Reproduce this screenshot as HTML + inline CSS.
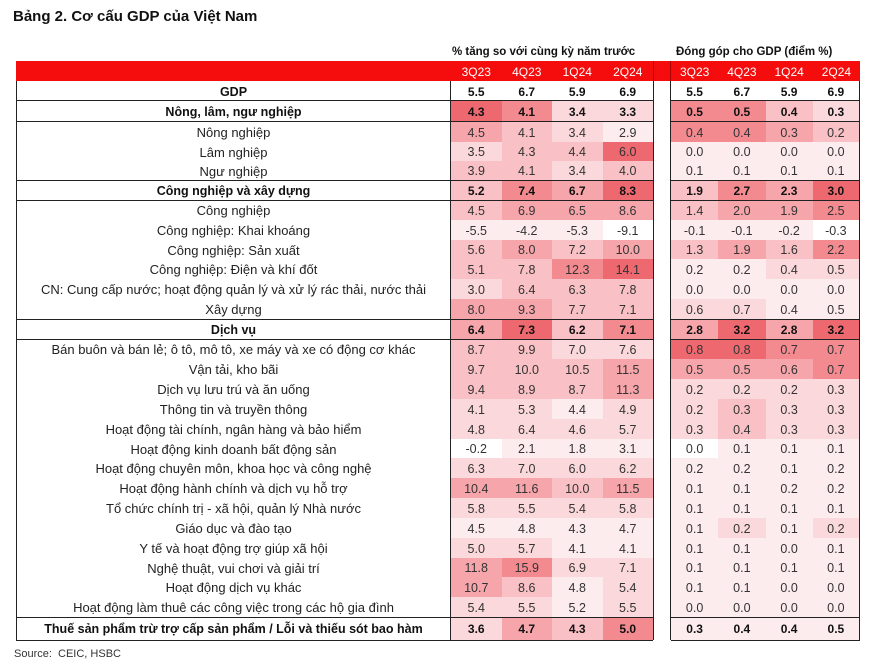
<!DOCTYPE html>
<html><head><meta charset="utf-8"><style>
body{margin:0;width:874px;height:665px;background:#fff;position:relative;overflow:hidden;font-family:"Liberation Sans",Arial,sans-serif;color:#222}
.t{position:absolute;left:13px;top:8px;font-weight:bold;font-size:15px;color:#111}
.hd{position:absolute;top:46px;font-weight:bold;font-size:11.5px;color:#111}
.r{position:absolute;left:16px;width:844px;display:grid;grid-template-columns:435px repeat(4,50.5px) 18px repeat(4,47.25px);align-items:stretch}
.r>div{display:flex;align-items:center;justify-content:center;font-size:12.5px;color:#333;white-space:nowrap;padding-top:1px;box-sizing:border-box}
.r>div:first-child{font-size:13px;color:#222;border-left:1px solid #222;border-right:1px solid #222}
.r>div:nth-child(6){border-left:1px solid #222;border-right:1px solid #222;background:#fff}
.r>div:last-child{border-right:1px solid #222}
.b>div{font-weight:bold;color:#111;font-size:12px}
.b>div:first-child{font-size:12.5px;font-weight:bold;color:#111}
.h{top:61px;height:20px;background:#f50d0d}
.h>div{color:#fff;font-size:12px}
.h>div:first-child,.h>div:last-child{border:none;background:#f50d0d}
.h>div:nth-child(6){border-left:1px solid #a00;border-right:1px solid #a00;background:#f50d0d}
.hl{position:absolute;height:1px;background:#222}
.a0{background:#fff}.a1{background:#fdecee}.a2{background:#fbd8db}.a3{background:#f9c1c5}.a4{background:#f6a6ab}.a5{background:#f38a90}.a6{background:#ee6870}
.src{position:absolute;left:14px;top:648px;font-size:11px;color:#333}
</style></head><body>
<div class="t">Bảng 2. Cơ cấu GDP của Việt Nam</div>
<div class="hd" style="left:452px">% tăng so với cùng kỳ năm trước</div>
<div class="hd" style="left:676px">Đóng góp cho GDP (điểm %)</div>

<div class="r h"><div></div><div>3Q23</div><div>4Q23</div><div>1Q24</div><div>2Q24</div><div></div><div>3Q23</div><div>4Q23</div><div>1Q24</div><div>2Q24</div></div>

<div class="r b" style="top:81px;height:20px"><div>GDP</div><div>5.5</div><div>6.7</div><div>5.9</div><div>6.9</div><div></div><div>5.5</div><div>6.7</div><div>5.9</div><div>6.9</div></div>
<div class="r b" style="top:101px;height:21px"><div>Nông, lâm, ngư nghiệp</div><div class="a6">4.3</div><div class="a5">4.1</div><div class="a2">3.4</div><div class="a2">3.3</div><div></div><div class="a5">0.5</div><div class="a5">0.5</div><div class="a3">0.4</div><div class="a2">0.3</div></div>
<div class="r" style="top:122px;height:20px"><div>Nông nghiệp</div><div class="a4">4.5</div><div class="a3">4.1</div><div class="a2">3.4</div><div class="a1">2.9</div><div></div><div class="a5">0.4</div><div class="a5">0.4</div><div class="a4">0.3</div><div class="a3">0.2</div></div>
<div class="r" style="top:142px;height:19px"><div>Lâm nghiệp</div><div class="a2">3.5</div><div class="a3">4.3</div><div class="a3">4.4</div><div class="a6">6.0</div><div></div><div class="a1">0.0</div><div class="a1">0.0</div><div class="a1">0.0</div><div class="a1">0.0</div></div>
<div class="r" style="top:161px;height:19px"><div>Ngư nghiệp</div><div class="a3">3.9</div><div class="a3">4.1</div><div class="a2">3.4</div><div class="a3">4.0</div><div></div><div class="a1">0.1</div><div class="a1">0.1</div><div class="a1">0.1</div><div class="a1">0.1</div></div>
<div class="r b" style="top:180px;height:20px"><div>Công nghiệp và xây dựng</div><div class="a3">5.2</div><div class="a5">7.4</div><div class="a4">6.7</div><div class="a6">8.3</div><div></div><div class="a3">1.9</div><div class="a5">2.7</div><div class="a4">2.3</div><div class="a6">3.0</div></div>
<div class="r" style="top:200px;height:20px"><div>Công nghiệp</div><div class="a3">4.5</div><div class="a4">6.9</div><div class="a4">6.5</div><div class="a4">8.6</div><div></div><div class="a3">1.4</div><div class="a4">2.0</div><div class="a4">1.9</div><div class="a5">2.5</div></div>
<div class="r" style="top:220px;height:20px"><div>Công nghiệp: Khai khoáng</div><div class="a1">-5.5</div><div class="a1">-4.2</div><div class="a1">-5.3</div><div class="a0">-9.1</div><div></div><div class="a1">-0.1</div><div class="a1">-0.1</div><div class="a1">-0.2</div><div class="a0">-0.3</div></div>
<div class="r" style="top:240px;height:19px"><div>Công nghiệp: Sản xuất</div><div class="a3">5.6</div><div class="a4">8.0</div><div class="a3">7.2</div><div class="a4">10.0</div><div></div><div class="a3">1.3</div><div class="a4">1.9</div><div class="a3">1.6</div><div class="a5">2.2</div></div>
<div class="r" style="top:259px;height:20px"><div>Công nghiệp: Điện và khí đốt</div><div class="a3">5.1</div><div class="a3">7.8</div><div class="a5">12.3</div><div class="a6">14.1</div><div></div><div class="a1">0.2</div><div class="a1">0.2</div><div class="a2">0.4</div><div class="a2">0.5</div></div>
<div class="r" style="top:279px;height:20px"><div>CN: Cung cấp nước; hoạt động quản lý và xử lý rác thải, nước thải</div><div class="a2">3.0</div><div class="a3">6.4</div><div class="a3">6.3</div><div class="a3">7.8</div><div></div><div class="a1">0.0</div><div class="a1">0.0</div><div class="a1">0.0</div><div class="a1">0.0</div></div>
<div class="r" style="top:299px;height:20px"><div>Xây dựng</div><div class="a4">8.0</div><div class="a4">9.3</div><div class="a3">7.7</div><div class="a3">7.1</div><div></div><div class="a2">0.6</div><div class="a2">0.7</div><div class="a1">0.4</div><div class="a1">0.5</div></div>
<div class="r b" style="top:319px;height:20px"><div>Dịch vụ</div><div class="a4">6.4</div><div class="a6">7.3</div><div class="a3">6.2</div><div class="a5">7.1</div><div></div><div class="a4">2.8</div><div class="a6">3.2</div><div class="a4">2.8</div><div class="a6">3.2</div></div>
<div class="r" style="top:339px;height:20px"><div>Bán buôn và bán lẻ; ô tô, mô tô, xe máy và xe có động cơ khác</div><div class="a3">8.7</div><div class="a3">9.9</div><div class="a2">7.0</div><div class="a2">7.6</div><div></div><div class="a6">0.8</div><div class="a6">0.8</div><div class="a5">0.7</div><div class="a5">0.7</div></div>
<div class="r" style="top:359px;height:20px"><div>Vận tải, kho bãi</div><div class="a3">9.7</div><div class="a3">10.0</div><div class="a3">10.5</div><div class="a4">11.5</div><div></div><div class="a4">0.5</div><div class="a4">0.5</div><div class="a4">0.6</div><div class="a5">0.7</div></div>
<div class="r" style="top:379px;height:20px"><div>Dịch vụ lưu trú và ăn uống</div><div class="a3">9.4</div><div class="a3">8.9</div><div class="a3">8.7</div><div class="a4">11.3</div><div></div><div class="a2">0.2</div><div class="a2">0.2</div><div class="a2">0.2</div><div class="a2">0.3</div></div>
<div class="r" style="top:399px;height:20px"><div>Thông tin và truyền thông</div><div class="a2">4.1</div><div class="a2">5.3</div><div class="a1">4.4</div><div class="a2">4.9</div><div></div><div class="a2">0.2</div><div class="a3">0.3</div><div class="a2">0.3</div><div class="a2">0.3</div></div>
<div class="r" style="top:419px;height:20px"><div>Hoạt động tài chính, ngân hàng và bảo hiểm</div><div class="a2">4.8</div><div class="a2">6.4</div><div class="a2">4.6</div><div class="a2">5.7</div><div></div><div class="a2">0.3</div><div class="a3">0.4</div><div class="a2">0.3</div><div class="a2">0.3</div></div>
<div class="r" style="top:439px;height:19px"><div>Hoạt động kinh doanh bất động sản</div><div class="a0">-0.2</div><div class="a1">2.1</div><div class="a1">1.8</div><div class="a1">3.1</div><div></div><div class="a0">0.0</div><div class="a1">0.1</div><div class="a1">0.1</div><div class="a1">0.1</div></div>
<div class="r" style="top:458px;height:20px"><div>Hoạt động chuyên môn, khoa học và công nghệ</div><div class="a2">6.3</div><div class="a2">7.0</div><div class="a2">6.0</div><div class="a2">6.2</div><div></div><div class="a1">0.2</div><div class="a1">0.2</div><div class="a1">0.1</div><div class="a1">0.2</div></div>
<div class="r" style="top:478px;height:20px"><div>Hoạt động hành chính và dịch vụ hỗ trợ</div><div class="a4">10.4</div><div class="a4">11.6</div><div class="a3">10.0</div><div class="a4">11.5</div><div></div><div class="a1">0.1</div><div class="a1">0.1</div><div class="a1">0.2</div><div class="a1">0.2</div></div>
<div class="r" style="top:498px;height:20px"><div>Tổ chức chính trị - xã hội, quản lý Nhà nước</div><div class="a2">5.8</div><div class="a2">5.5</div><div class="a2">5.4</div><div class="a2">5.8</div><div></div><div class="a1">0.1</div><div class="a1">0.1</div><div class="a1">0.1</div><div class="a1">0.1</div></div>
<div class="r" style="top:518px;height:20px"><div>Giáo dục và đào tạo</div><div class="a1">4.5</div><div class="a1">4.8</div><div class="a1">4.3</div><div class="a1">4.7</div><div></div><div class="a1">0.1</div><div class="a2">0.2</div><div class="a1">0.1</div><div class="a2">0.2</div></div>
<div class="r" style="top:538px;height:20px"><div>Y tế và hoạt động trợ giúp xã hội</div><div class="a2">5.0</div><div class="a2">5.7</div><div class="a1">4.1</div><div class="a1">4.1</div><div></div><div class="a1">0.1</div><div class="a1">0.1</div><div class="a1">0.0</div><div class="a1">0.1</div></div>
<div class="r" style="top:558px;height:19px"><div>Nghệ thuật, vui chơi và giải trí</div><div class="a4">11.8</div><div class="a5">15.9</div><div class="a2">6.9</div><div class="a2">7.1</div><div></div><div class="a1">0.1</div><div class="a1">0.1</div><div class="a1">0.1</div><div class="a1">0.1</div></div>
<div class="r" style="top:577px;height:20px"><div>Hoạt động dịch vụ khác</div><div class="a4">10.7</div><div class="a3">8.6</div><div class="a1">4.8</div><div class="a2">5.4</div><div></div><div class="a1">0.1</div><div class="a1">0.1</div><div class="a1">0.0</div><div class="a1">0.0</div></div>
<div class="r" style="top:597px;height:20px"><div>Hoạt động làm thuê các công việc trong các hộ gia đình</div><div class="a2">5.4</div><div class="a2">5.5</div><div class="a1">5.2</div><div class="a2">5.5</div><div></div><div class="a1">0.0</div><div class="a1">0.0</div><div class="a1">0.0</div><div class="a1">0.0</div></div>
<div class="r b" style="top:617px;height:23px"><div>Thuế sản phẩm trừ trợ cấp sản phẩm / Lỗi và thiếu sót bao hàm</div><div class="a2">3.6</div><div class="a4">4.7</div><div class="a3">4.3</div><div class="a5">5.0</div><div></div><div class="a1">0.3</div><div class="a1">0.4</div><div class="a1">0.4</div><div class="a1">0.5</div></div>

<div class="hl" style="top:100px;left:16px;width:637px"></div><div class="hl" style="top:100px;left:671px;width:189px"></div>
<div class="hl" style="top:121px;left:16px;width:637px"></div><div class="hl" style="top:121px;left:671px;width:189px"></div>
<div class="hl" style="top:180px;left:16px;width:637px"></div><div class="hl" style="top:180px;left:671px;width:189px"></div>
<div class="hl" style="top:200px;left:16px;width:637px"></div><div class="hl" style="top:200px;left:671px;width:189px"></div>
<div class="hl" style="top:319px;left:16px;width:637px"></div><div class="hl" style="top:319px;left:671px;width:189px"></div>
<div class="hl" style="top:339px;left:16px;width:637px"></div><div class="hl" style="top:339px;left:671px;width:189px"></div>
<div class="hl" style="top:617px;left:16px;width:637px"></div><div class="hl" style="top:617px;left:671px;width:189px"></div>
<div class="hl" style="top:640px;left:16px;width:637px"></div><div class="hl" style="top:640px;left:671px;width:189px"></div>

<div class="src">Source:&nbsp; CEIC, HSBC</div>
</body></html>
